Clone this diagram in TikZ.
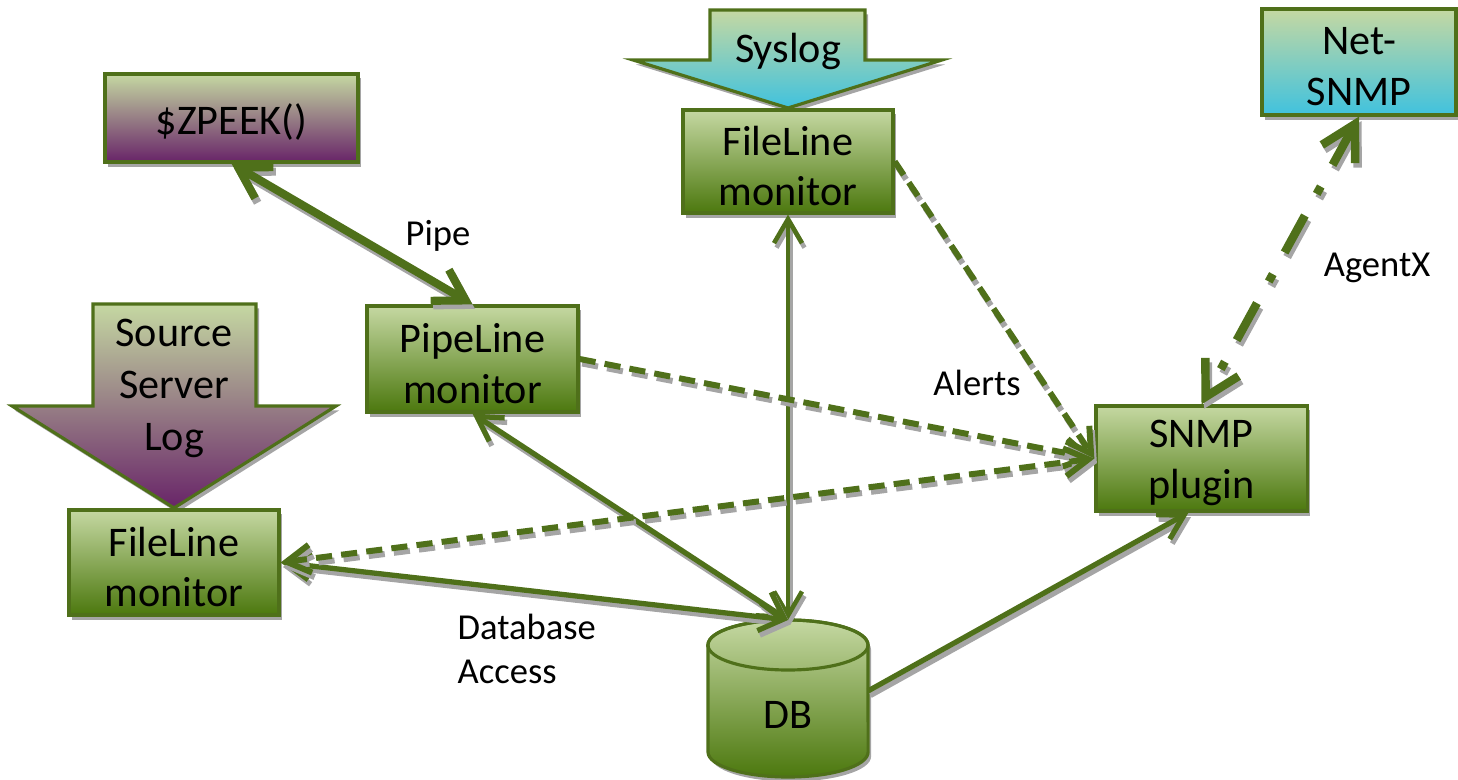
\documentclass[tikz,border=0pt]{standalone}
\usepackage{fontspec}
\setmainfont{Carlito}
\usetikzlibrary{arrows.meta,shadows}
\definecolor{gtop}{RGB}{197,216,162}
\definecolor{gbot}{RGB}{76,120,14}
\definecolor{pbot}{RGB}{104,36,104}
\definecolor{cbot}{RGB}{64,194,222}
\definecolor{lc}{RGB}{79,112,26}
\definecolor{shd}{RGB}{165,165,165}
\tikzset{
  sb/.tip={Straight Barb[length=2.4mm,width=2.8mm]},
  bb/.tip={Straight Barb[length=3mm,width=3.6mm]},
  xb/.tip={Straight Barb[length=3.4mm,width=3.8mm]},
}
\begin{document}
\begin{tikzpicture}[x=0.01cm,y=0.01cm,
  boxtext/.style={font=\fontsize{12}{14.4}\selectfont, align=center, text=black},
  shadowed/.style={drop shadow={shadow xshift=0.3mm,shadow yshift=-0.45mm,fill=shd,opacity=1}},
  gbox/.style={draw=lc, line width=0.9pt, top color=gtop, bottom color=gbot, inner sep=0pt, shadowed},
  pbox/.style={gbox, bottom color=pbot},
  cbox/.style={gbox, bottom color=cbot},
  txt/.style={label={[boxtext, yshift=-0.45mm]center:{#1}}},
  ashape/.style={draw=lc, line width=0.9pt, top color=gtop, bottom color=gbot, shadowed},
  lbl/.style={font=\fontsize{10.4}{12.5}\selectfont, align=left, inner sep=0pt},
  cn/.style n args={3}{draw=lc, line width=#1, #2, line cap=butt, #3,
     preaction={draw=shd, line width=#1, #2, line cap=butt, #3, transform canvas={xshift=0.25mm,yshift=-0.45mm}}},
  dpat/.style={dash pattern=on 4.6pt off 2.6pt},
  ddpat/.style={dash pattern=on 12pt off 7pt on 2.4pt off 7pt},
]
\useasboundingbox (0,0) rectangle (1458,779);

% block arrows
\path[ashape, bottom color=cbot] (710,769) -- (865,769) -- (865,719) -- (942,719) -- (788,671) -- (633,719) -- (710,719) -- cycle;
\node[boxtext] (syslog) at (788,728) {Syslog};
\path[ashape, bottom color=pbot] (93,475) -- (256,475) -- (256,373) -- (336,373) -- (174,271) -- (12,373) -- (93,373) -- cycle;
\node[boxtext, font=\fontsize{12}{14.8}\selectfont] (srclog) at (174,391) {Source\\Server\\Log};

% boxes
\node[pbox, minimum width=25.3mm, minimum height=8.8mm, txt={\$ZPEEK()}] (zpeek) at (231.5,661) {};
\node[gbox, minimum width=21mm, minimum height=10.3mm, txt={FileLine\\monitor}] (fl1) at (788,617.5) {};
\node[cbox, minimum width=19.4mm, minimum height=10.6mm, txt={Net-\\SNMP}] (netsnmp) at (1359,717) {};
\node[gbox, minimum width=21mm, minimum height=10.5mm, txt={FileLine\\monitor}] (fl2) at (174,216.5) {};
\node[gbox, minimum width=21.1mm, minimum height=10.6mm, txt={PipeLine\\monitor}] (pipe) at (472.5,420) {};
\node[gbox, minimum width=21.1mm, minimum height=10.5mm, txt={SNMP\\plugin}] (snmp) at (1201.5,320.5) {};

% database cylinder
\path[ashape] (708,134) -- (708,27) arc[start angle=180,end angle=360,x radius=0.8cm,y radius=0.25cm] -- (868,134) arc[start angle=0,end angle=180,x radius=0.8cm,y radius=0.25cm] -- cycle;
\draw[lc, line width=0.9pt] (788,134) ellipse [x radius=0.8cm, y radius=0.25cm];
\node[boxtext] (db) at (788,64) {DB};
\coordinate (dbtop) at (788,159);
\coordinate (dbright) at (868,88);

% connectors
\draw[cn={2.3pt}{solid}{bb-bb}] (zpeek.south) -- (pipe.north);
\draw[cn={1.3pt}{solid}{sb-sb}] (fl1.south) -- (dbtop);
\draw[cn={1.5pt}{solid}{sb-sb}] (pipe.south) -- (dbtop);
\draw[cn={1.5pt}{solid}{sb-sb}] (fl2.east) -- (dbtop);
\draw[cn={1.5pt}{solid}{-sb}] (dbright) -- ([xshift=-1.3mm]snmp.south);
\draw[cn={1.7pt}{dpat}{-sb}] (pipe.east) -- (snmp.west);
\draw[cn={1.7pt}{dpat}{-sb}] (fl1.east) -- (snmp.west);
\draw[cn={1.7pt}{dpat}{sb-sb}] (snmp.west) -- (fl2.east);
\draw[cn={2.4pt}{ddpat}{xb-xb}] (netsnmp.south) -- (snmp.north);

% labels
\node[lbl] (lpipe) at (438,543) {Pipe};
\node[lbl] (lalerts) at (977,396) {Alerts};
\node[lbl] (lagentx) at (1377,511) {AgentX};
\node[lbl, anchor=west] (ldb) at (457,130) {Database\\Access};
\end{tikzpicture}
\end{document}
